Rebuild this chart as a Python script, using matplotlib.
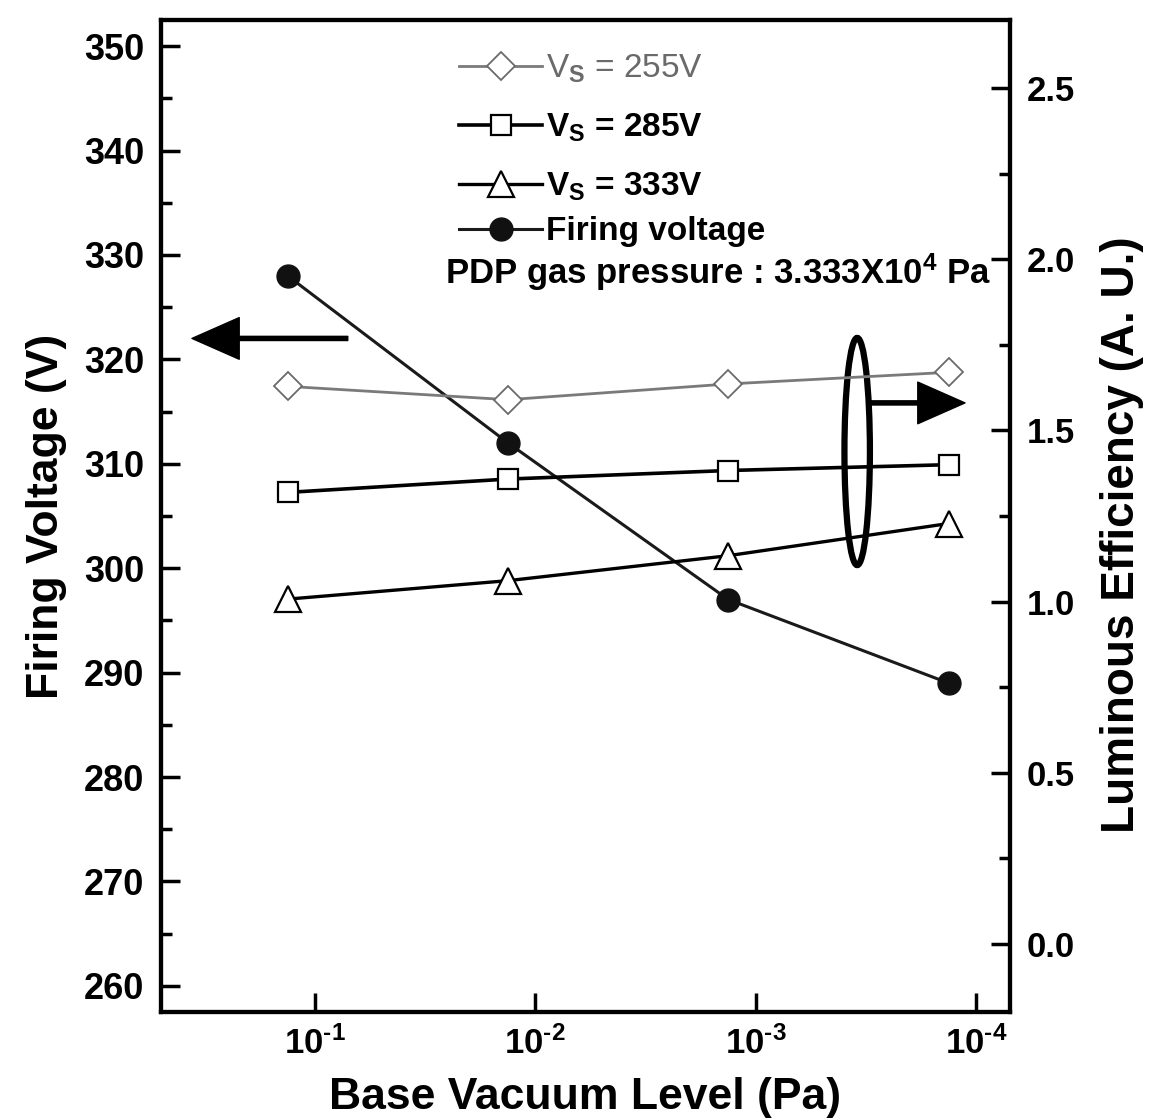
import math
import matplotlib
matplotlib.use("Agg")
import matplotlib.pyplot as plt
from matplotlib.patches import Ellipse
from matplotlib.ticker import FixedLocator, MultipleLocator, NullLocator

plt.rcParams['font.family'] = ['Liberation Sans', 'DejaVu Sans']
plt.rcParams['font.weight'] = 'bold'
plt.rcParams['mathtext.fontset'] = 'custom'
plt.rcParams['mathtext.rm'] = 'Liberation Sans:bold'
plt.rcParams['mathtext.it'] = 'Liberation Sans:bold'
plt.rcParams['mathtext.bf'] = 'Liberation Sans:bold'

# Data
vacuum_pa = [1.33e-1, 1.33e-2, 1.33e-3, 1.33e-4]
firing_voltage = [328.0, 312.0, 297.0, 289.0]
eff_255 = [1.629, 1.590, 1.636, 1.670]
eff_285 = [1.319, 1.358, 1.383, 1.400]
eff_333 = [1.007, 1.061, 1.134, 1.228]
labels = [r'V$_S$ = 255V', r'V$_S$ = 285V', r'V$_S$ = 333V', 'Firing voltage']
x_ticks = [1e-1, 1e-2, 1e-3, 1e-4]
x_ticklabels = ['$10^{\u20101}$', '$10^{\u20102}$', '$10^{\u20103}$', '$10^{\u20104}$']
left_ticks = [260, 270, 280, 290, 300, 310, 320, 330, 340, 350]
right_ticks = [0.0, 0.5, 1.0, 1.5, 2.0, 2.5]

fig = plt.figure(figsize=(11.51, 11.19), dpi=100)
ax = fig.add_axes([161/1151, (1119-1012)/1119, (1010-161)/1151, (1012-20)/1119])
ax2 = ax.twinx()

ax.set_xscale('log')
ax.set_xlim(0.5, 7e-5)
ax.set_ylim(257.5, 352.5)
ax2.set_ylim(-0.2, 2.7)

l_fire, = ax.plot(vacuum_pa, firing_voltage, color='#1a1a1a', lw=2.2, marker='o',
                  markersize=16.5, markerfacecolor='#111111', markeredgecolor='#111111', zorder=3)
l255, = ax2.plot(vacuum_pa, eff_255, color='#7a7a7a', lw=2.0, marker='D', markersize=14,
                 markerfacecolor='white', markeredgecolor='#6a6a6a', markeredgewidth=1.3)
l285, = ax2.plot(vacuum_pa, eff_285, color='black', lw=2.6, marker='s', markersize=15,
                 markerfacecolor='white', markeredgecolor='black', markeredgewidth=1.6)
l333, = ax2.plot(vacuum_pa, eff_333, color='black', lw=2.4, marker='^', markersize=19,
                 markerfacecolor='white', markeredgecolor='black', markeredgewidth=1.6)

# Axes styling
for a in (ax, ax2):
    for s in a.spines.values():
        s.set_linewidth(3)
ax.xaxis.set_major_locator(FixedLocator(x_ticks))
ax.xaxis.set_minor_locator(NullLocator())
ax.set_xticklabels(x_ticklabels)
ax.yaxis.set_major_locator(FixedLocator(left_ticks))
ax.yaxis.set_minor_locator(MultipleLocator(5))
ax2.yaxis.set_major_locator(FixedLocator(right_ticks))
ax2.yaxis.set_minor_locator(MultipleLocator(0.25))

ax.tick_params(axis='x', which='major', direction='in', length=14, width=2.5, labelsize=25, pad=10, top=False)
ax.tick_params(axis='y', which='major', direction='in', length=14, width=2.5, labelsize=26, pad=12)
ax.tick_params(axis='y', which='minor', direction='in', length=8, width=2.5)
ax2.tick_params(axis='y', which='major', direction='in', length=14, width=2.5, labelsize=25, pad=12)
ax2.tick_params(axis='y', which='minor', direction='in', length=8, width=2.5)

ax.set_xlabel('Base Vacuum Level (Pa)', fontsize=32, fontweight='bold', labelpad=12)
ax.set_ylabel('Firing Voltage (V)', fontsize=32, fontweight='bold', labelpad=12)
ax2.set_ylabel('Luminous Efficiency (A. U.)', fontsize=33, fontweight='bold')
ax2.yaxis.set_label_coords(1.106, 0.481)

leg1 = ax2.legend([l255, l285, l333], labels[:3], loc='upper left',
                  bbox_to_anchor=(0.351, 0.967), frameon=False, fontsize=24,
                  handlelength=2.5, handletextpad=0.1, labelspacing=0.79, borderpad=0,
                  borderaxespad=0)
leg1.get_texts()[0].set_color('#6a6a6a')
leg1.get_texts()[0].set_fontweight('normal')
ax2.add_artist(leg1)
leg2 = ax2.legend([l_fire], labels[3:], loc='upper left',
                  bbox_to_anchor=(0.351, 0.802), frameon=False, fontsize=24,
                  handlelength=2.5, handletextpad=0.1, borderpad=0, borderaxespad=0)

ax2.text(0.3345, 0.746, r'PDP gas pressure : 3.333X10$^4$ Pa', transform=ax2.transAxes,
         fontsize=25, fontweight='bold', va='center', ha='left')

# Ellipse and arrows
ax2.add_patch(Ellipse((0.820, 0.565), 0.030, 0.229, transform=ax2.transAxes,
                      fill=False, lw=4.5, edgecolor='black'))
ax2.annotate('', xy=(0.0365, 0.679), xytext=(0.220, 0.679), xycoords='axes fraction',
             arrowprops=dict(width=3, headwidth=30, headlength=34, facecolor='black', edgecolor='black'))
ax2.annotate('', xy=(0.947, 0.614), xytext=(0.836, 0.614), xycoords='axes fraction',
             arrowprops=dict(width=3, headwidth=30, headlength=34, facecolor='black', edgecolor='black'))

fig.savefig('out.png', dpi=100)
